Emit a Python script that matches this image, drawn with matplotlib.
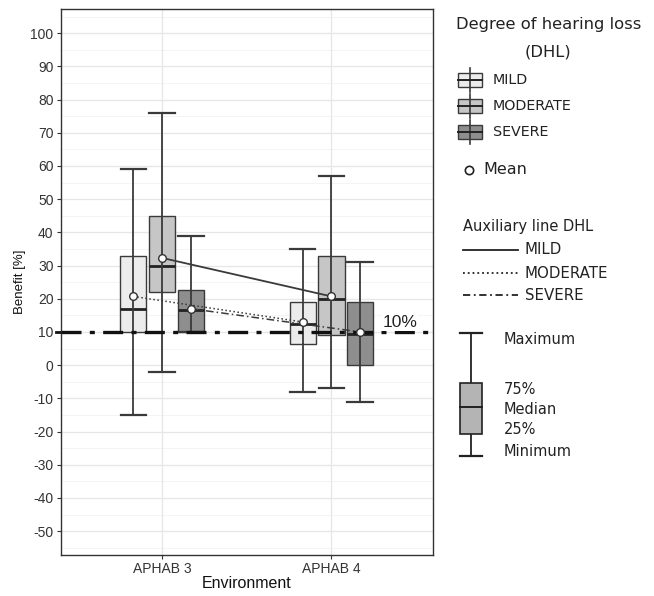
import matplotlib
matplotlib.use("Agg")
import matplotlib.pyplot as plt
from matplotlib.patches import Rectangle
import numpy as np

# ---------------- data ----------------
environments = ["APHAB 3", "APHAB 4"]
groups = ["MILD", "MODERATE", "SEVERE"]
# per group: values for [APHAB 3, APHAB 4]
mins    = {"MILD": [-15, -8],  "MODERATE": [-2, -7],  "SEVERE": [10, -11]}
q1s     = {"MILD": [10, 6.5],  "MODERATE": [22, 9],   "SEVERE": [10, 0]}
medians = {"MILD": [17, 12.5], "MODERATE": [30, 20],  "SEVERE": [16.5, 9.5]}
q3s     = {"MILD": [33, 19],   "MODERATE": [45, 33],  "SEVERE": [22.5, 19]}
maxs    = {"MILD": [59, 35],   "MODERATE": [76, 57],  "SEVERE": [39, 31]}
means   = {"MILD": [20.7, 13], "MODERATE": [32.3, 20.7], "SEVERE": [17, 10]}
threshold = 10
y_ticks = list(range(-50, 101, 10))

fills = {"MILD": "#ececec", "MODERATE": "#c6c6c6", "SEVERE": "#8e8e8e"}
offsets = {"MILD": -0.17, "MODERATE": 0.0, "SEVERE": 0.17}
# line styles as drawn in the plot
plot_styles = {"MILD": ":", "MODERATE": "-", "SEVERE": (0, (5, 2, 1, 2))}
# line styles as shown in the legend of the reference
legend_styles = {"MILD": "-", "MODERATE": ":", "SEVERE": (0, (4, 2, 1, 2))}
edge = "#3a3a3a"

W, H = 654, 596
fig = plt.figure(figsize=(W / 100, H / 100), dpi=100)
ax = fig.add_axes([60.5 / W, 1 - 555 / H, (433 - 60.5) / W, (555 - 9.3) / H])

axfont = "Liberation Sans"
legfont = "DejaVu Sans"

# grid
for v in np.arange(-55, 106, 10):
    ax.axhline(v, color="#f2f2f2", lw=0.6, zorder=0)
for v in y_ticks:
    ax.axhline(v, color="#e6e6e6", lw=0.9, zorder=0)
for x in [1, 2]:
    ax.axvline(x, color="#e6e6e6", lw=0.9, zorder=0)

xpos = np.arange(1, len(environments) + 1)
for g in groups:
    stats = []
    for i in range(len(environments)):
        stats.append(dict(med=medians[g][i], q1=q1s[g][i], q3=q3s[g][i],
                          whislo=mins[g][i], whishi=maxs[g][i], fliers=[]))
    pos = xpos + offsets[g]
    ax.bxp(stats, positions=pos, widths=0.155, capwidths=0.15, patch_artist=True,
           showfliers=False, manage_ticks=False,
           boxprops=dict(facecolor=fills[g], edgecolor=edge, lw=1.0),
           medianprops=dict(color="#222222", lw=2.0),
           whiskerprops=dict(color=edge, lw=1.3),
           capprops=dict(color=edge, lw=1.6), zorder=2)
    ax.vlines(pos, q1s[g], q3s[g], color=edge, lw=1.3, zorder=2.5)

# auxiliary mean lines
for g in groups:
    pos = xpos + offsets[g]
    ax.plot(pos, means[g], color="#3a3a3a", lw=1.3 if g == "MODERATE" else 1.1,
            linestyle=plot_styles[g], zorder=3)
for g in groups:
    pos = xpos + offsets[g]
    ax.plot(pos, means[g], linestyle="none", marker="o", ms=5.5, mfc="white",
            mec="#333333", mew=1.0, zorder=5)

# threshold line
ax.axhline(threshold, color="#111111", lw=2.4, linestyle=(0, (6, 2.5, 1.5, 2.5)), zorder=4)
ax.text(2.3, threshold + 0.6, "10%", fontsize=12.5, family=axfont, color="#222222",
        ha="left", va="bottom", zorder=6,
        bbox=dict(facecolor="white", edgecolor="none", pad=0.5))

ax.set_xlim(0.4, 2.6)
ax.set_ylim(-57.2, 107.2)
ax.set_xticks(xpos)
ax.set_xticklabels(environments, family=axfont, fontsize=10, color="#333333")
ax.set_yticks(y_ticks)
ax.set_yticklabels([str(v) for v in y_ticks], family=axfont, fontsize=10, color="#333333")
ax.tick_params(length=3, width=0.8, colors="#333333", pad=2)
ax.set_xlabel("Environment", family=axfont, fontsize=11.5, labelpad=0, color="#111111")
ax.set_ylabel("Benefit [%]", family=axfont, fontsize=9.5, labelpad=3, color="#111111")
for s in ax.spines.values():
    s.set_color("#333333")
    s.set_linewidth(1.0)
ax.plot([-0.012, 0], [threshold, threshold], transform=ax.get_yaxis_transform(),
        color="#111111", lw=2.0, clip_on=False)

# ---------------- legend (pixel overlay) ----------------
lax = fig.add_axes([0, 0, 1, 1])
lax.set_xlim(0, W)
lax.set_ylim(H, 0)
lax.axis("off")

lax.text(549, 24, "Degree of hearing loss", fontsize=11.8, family=legfont,
         ha="center", va="center", color="#222222")
lax.text(548, 52, "(DHL)", fontsize=11.8, family=legfont, ha="center", va="center", color="#222222")

key_y = {"MILD": 80, "MODERATE": 106, "SEVERE": 132}
for g in groups:
    y = key_y[g]
    lax.plot([469.5, 469.5], [y - 12, y + 12], color=edge, lw=1.2)
    lax.add_patch(Rectangle((458, y - 7), 24, 14, facecolor=fills[g], edgecolor=edge, lw=1.0))
    lax.plot([458, 482], [y, y], color="#222222", lw=1.4)
    lax.text(493, y, g, fontsize=10.3, family=legfont, va="center", ha="left", color="#222222")

lax.plot([469], [170], marker="o", ms=6, mfc="white", mec="#222222", mew=1.2, linestyle="none")
lax.text(483, 170, "Mean", fontsize=11.5, family=legfont, va="center", ha="left", color="#222222")

lax.text(463, 226, "Auxiliary line DHL", fontsize=10.5, family=legfont, va="center", ha="left",
         color="#222222")
aux_y = {"MILD": 250, "MODERATE": 273, "SEVERE": 295}
for g in groups:
    y = aux_y[g]
    lax.plot([463, 518], [y, y], color="#222222", lw=1.3, linestyle=legend_styles[g])
    lax.text(525, y, g, fontsize=10.8, family=legfont, va="center", ha="left", color="#222222")

# explanatory box glyph
bx0, bx1 = 460, 482
bxc = (bx0 + bx1) / 2
lax.plot([bxc, bxc], [333, 456], color="#222222", lw=1.3)
lax.plot([bx0, bx1], [333, 333], color="#222222", lw=1.6)
lax.plot([bx0, bx1], [456, 456], color="#222222", lw=1.6)
lax.add_patch(Rectangle((bx0, 383), bx1 - bx0, 51, facecolor="#b4b4b4", edgecolor="#222222",
                        lw=1.2, zorder=3))
lax.plot([bx0, bx1], [407, 407], color="#222222", lw=1.4, zorder=4)
for txt, y in [("Maximum", 340), ("75%", 389), ("Median", 409), ("25%", 429), ("Minimum", 452)]:
    lax.text(504, y, txt, fontsize=10.5, family=legfont, va="center", ha="left", color="#222222")

fig.savefig("out.png", dpi=100, facecolor="white")
